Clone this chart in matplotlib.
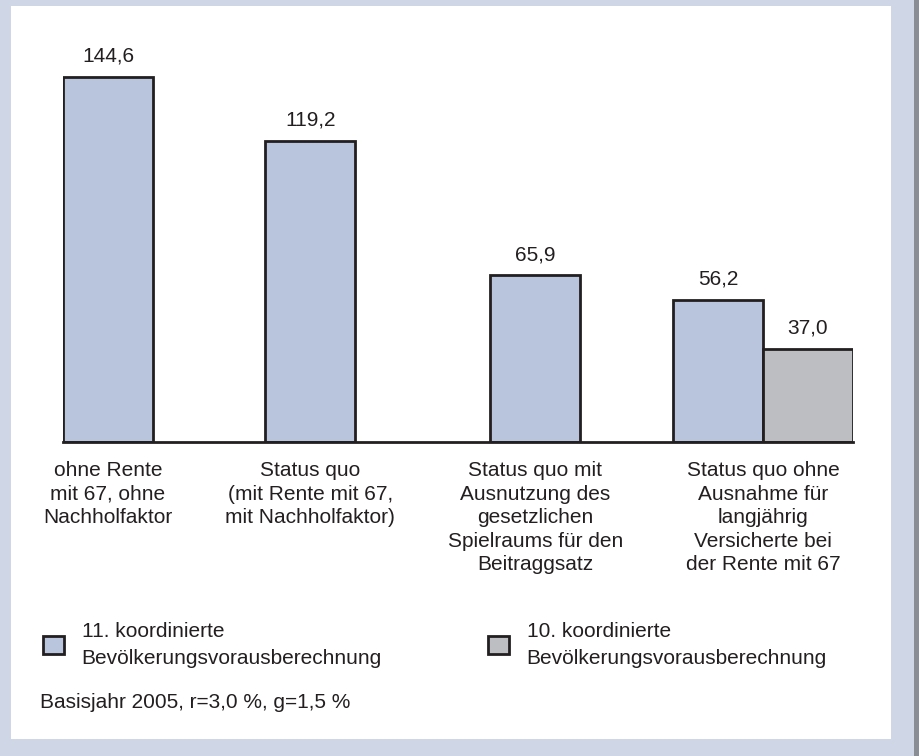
import matplotlib
matplotlib.use("Agg")
import matplotlib.pyplot as plt
from matplotlib.patches import Rectangle, Patch

plt.rcParams['font.family'] = ['Liberation Sans', 'DejaVu Sans']

categories = [
    "ohne Rente\nmit 67, ohne\nNachholfaktor",
    "Status quo\n(mit Rente mit 67,\nmit Nachholfaktor)",
    "Status quo mit\nAusnutzung des\ngesetzlichen\nSpielraums für den\nBeitraggsatz",
    "Status quo ohne\nAusnahme für\nlangjährig\nVersicherte bei\nder Rente mit 67",
]
values_11 = [144.6, 119.2, 65.9, 56.2]
values_10 = [None, None, None, 37.0]
legend_labels = [
    "11. koordinierte\nBevölkerungsvorausberechnung",
    "10. koordinierte\nBevölkerungsvorausberechnung",
]
footnote = "Basisjahr 2005, r=3,0 %, g=1,5 %"

blue = '#b9c4dd'
grey = '#bdbec1'
ink = '#231f20'
W, H = 919, 756

fig = plt.figure(figsize=(W / 100, H / 100), dpi=100, facecolor='#cfd7e7')
fig.patches.append(Rectangle((11 / W, 1 - 739 / H), 880 / W, 733 / H,
                             transform=fig.transFigure, facecolor='white',
                             edgecolor='none', zorder=-2))
fig.patches.append(Rectangle((914 / W, 0), 5 / W, 1, transform=fig.transFigure,
                             facecolor='#8a8d93', edgecolor='none', zorder=-2))

ax = fig.add_axes([63 / W, 1 - 442 / H, 790 / W, 422 / H])
ax.patch.set_alpha(0)

group_x = [0.5, 2.75, 5.25, 7.78]
# the last group holds two bars side by side
x11 = [group_x[0], group_x[1], group_x[2], group_x[3] - 0.5]
x10 = [group_x[3] + 0.5]

bars = ax.bar(x11, values_11, width=1.0, color=blue, edgecolor=ink, linewidth=2.0)
v10 = [v for v in values_10 if v is not None]
bars2 = ax.bar(x10, v10, width=1.0, color=grey, edgecolor=ink, linewidth=2.0)

for b in list(bars) + list(bars2):
    h = b.get_height()
    ax.annotate(f"{h:.1f}".replace('.', ','), (b.get_x() + b.get_width() / 2, h),
                xytext=(0, 8), textcoords='offset points', ha='center', va='bottom',
                fontsize=15, color=ink)

ax.set_xlim(0, 8.78)
ax.set_ylim(0, 167)
ax.set_yticks([])
ax.set_xticks(group_x, categories, fontsize=15, color=ink)
for t in ax.get_xticklabels():
    t.set_linespacing(1.3)
ax.tick_params(axis='x', length=0, pad=14)
for s in ['top', 'left', 'right']:
    ax.spines[s].set_visible(False)
ax.spines['bottom'].set_linewidth(2.0)
ax.spines['bottom'].set_color(ink)

handles = [Patch(facecolor=blue, edgecolor=ink, linewidth=2.0),
           Patch(facecolor=grey, edgecolor=ink, linewidth=2.0)]
leg = fig.legend(handles, legend_labels, loc='upper left',
                 bbox_to_anchor=(43 / W, 1 - 622 / H), ncol=2, frameon=False,
                 fontsize=15, handlelength=1.0, handleheight=1.0,
                 handletextpad=0.85, columnspacing=5.1, borderpad=0,
                 borderaxespad=0)
for t in leg.get_texts():
    t.set_color(ink)
    t.set_linespacing(1.5)

fig.text(40 / W, 1 - 702 / H, footnote, fontsize=15, color=ink, va='center')

fig.savefig('out.png', dpi=100, facecolor=fig.get_facecolor())
